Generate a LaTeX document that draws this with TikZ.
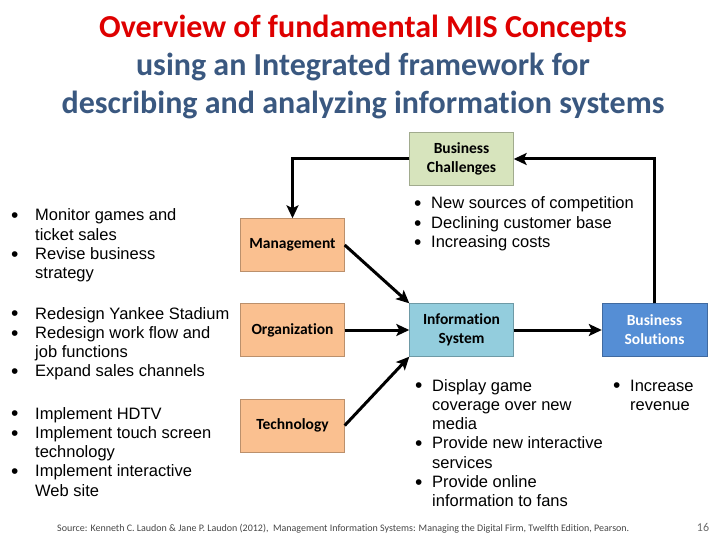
\documentclass[tikz,border=0pt]{standalone}
\usepackage{fontspec}
\setmainfont{Liberation Sans}
\newfontfamily\calibri[Ligatures=NoCommon]{Carlito}
\usetikzlibrary{arrows.meta}
\definecolor{titlered}{RGB}{222,0,0}
\definecolor{titleblue}{RGB}{58,88,128}
\definecolor{chgreen}{RGB}{215,228,189}
\definecolor{mgorange}{RGB}{250,192,144}
\definecolor{islight}{RGB}{147,205,221}
\definecolor{bsblue}{RGB}{85,142,213}
\definecolor{srcgray}{RGB}{70,70,70}
\newcommand{\blist}[2]{\begin{tabular}[t]{@{}p{#1}@{}l@{}}#2\end{tabular}}
\newcommand{\bul}{\raisebox{-1.7pt}{\fontsize{21}{19.3}\selectfont\textbullet}}
\begin{document}
\begin{tikzpicture}[x=1pt,y=-1pt,
  box/.style={draw=#1!75!black, fill=#1, minimum width=104pt, minimum height=53pt,
    inner sep=0pt, align=center, font=\calibri\bfseries\fontsize{15.5}{19}\selectfont},
  bullets/.style={anchor=base west, inner sep=0pt, font=\fontsize{16.5}{19.3}\selectfont},
  flow/.style={line width=3pt, -{Stealth[length=13pt,width=12pt,inset=3pt]}}]
\useasboundingbox (0,0) rectangle (720,540);
\path node (title) at (363,67) [align=center, font=\calibri\bfseries\fontsize{32}{38}\selectfont]
  {\textcolor{titlered}{Overview of fundamental MIS Concepts}\\
   \textcolor{titleblue}{using an Integrated framework for}\\
   \textcolor{titleblue}{describing and analyzing information systems}}
node (chal) at (461.5,159) [box=chgreen] {Business\\Challenges}
node (mgmt) at (292.5,245) [box=mgorange] {Management}
node (org) at (292.5,330) [box=mgorange] {Organization}
node (tech) at (292.5,425.5) [box=mgorange] {Technology}
node (info) at (461.5,330) [box=islight] {Information\\System}
node (sol) at (654.5,330) [box=bsblue, minimum width=105pt, text=white] {Business\\Solutions}
node (mgmtlist) at (11,221) [bullets] {\blist{24pt}{\bul & Monitor games and\\ & ticket sales\\ \bul & Revise business\\ & strategy}}
node (orglist) at (11,319) [bullets] {\blist{24pt}{\bul & Redesign Yankee Stadium\\ \bul & Redesign work flow and\\ & job functions\\ \bul & Expand sales channels}}
node (techlist) at (11,419) [bullets] {\blist{24pt}{\bul & Implement HDTV\\ \bul & Implement touch screen\\ & technology\\ \bul & Implement interactive\\ & Web site}}
node (challist) at (414,209) [bullets] {\blist{17pt}{\bul & New sources of competition\\ \bul & Declining customer base\\ \bul & Increasing costs}}
node (infolist) at (415,391) [bullets] {\blist{17pt}{\bul & Display game\\ & coverage over new\\ & media\\ \bul & Provide new interactive\\ & services\\ \bul & Provide online\\ & information to fans}}
node (sollist) at (613,391) [bullets] {\blist{17pt}{\bul & Increase\\ & revenue}}
node (source) at (57,529) [anchor=west, inner sep=0pt, text=srcgray, font=\calibri\fontsize{10}{11}\selectfont]
  {Source: Kenneth C. Laudon \& Jane P. Laudon (2012),\ \ Management Information Systems: Managing the Digital Firm, Twelfth Edition, Pearson.}
node (page) at (703,527) [text=srcgray!80, font=\calibri\fontsize{12}{14}\selectfont] {16}
;
\draw[flow] (chal.west) -| (mgmt.north);
\draw[flow] (mgmt.east) -- (info.north west);
\draw[flow] (org) -- (info);
\draw[flow] (tech.east) -- (info.south west);
\draw[flow] (info) -- (sol);
\draw[flow] (sol.north) |- (chal.east);
\end{tikzpicture}
\end{document}
